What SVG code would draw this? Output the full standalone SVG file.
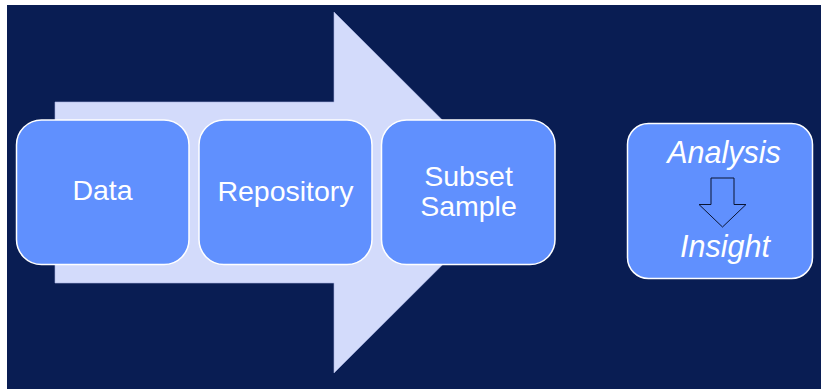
<svg xmlns="http://www.w3.org/2000/svg" width="821" height="389" viewBox="0 0 821 389">
  <style>
    .box { fill: #6090fe; stroke: #ffffff; stroke-width: 1.5; }
    .label { font-family: "Liberation Sans", Arial, sans-serif; font-size: 28.5px; fill: #ffffff; text-anchor: middle; }
    .it { font-style: italic; font-size: 30.5px; }
  </style>
  <rect x="0" y="0" width="821" height="389" fill="#ffffff"/>
  <rect x="7" y="5" width="814" height="384" fill="#091d53"/>

  <!-- big process arrow behind the stages -->
  <g id="flow-arrow">
    <polygon points="55,102 334,102 334,12 515,192.5 334,373 334,283 55,283" fill="#d3dbfb" stroke="#aab4e0" stroke-width="0.6"/>
  </g>

  <g id="data">
    <rect class="box" x="16.5" y="120" width="172.5" height="144.5" rx="25"/>
    <text class="label" x="102.5" y="200">Data</text>
  </g>
  <g id="repository">
    <rect class="box" x="199" y="120" width="173" height="144.5" rx="25"/>
    <text class="label" x="285.5" y="200.5">Repository</text>
  </g>
  <g id="subset-sample">
    <rect class="box" x="381.5" y="120" width="173.5" height="144.5" rx="25"/>
    <text class="label" x="468.5" y="186">Subset</text>
    <text class="label" x="468.5" y="215.5">Sample</text>
  </g>

  <g id="analysis-insight">
    <rect class="box" x="627.5" y="123.5" width="185" height="155" rx="21"/>
    <text class="label it" x="724" y="163">Analysis</text>
    <polygon points="711,178 734,178 734,204.5 746,204.5 722.5,227 699,204.5 711,204.5" fill="none" stroke="#0b1533" stroke-width="1"/>
    <text class="label it" x="725" y="256.5">Insight</text>
  </g>
</svg>
